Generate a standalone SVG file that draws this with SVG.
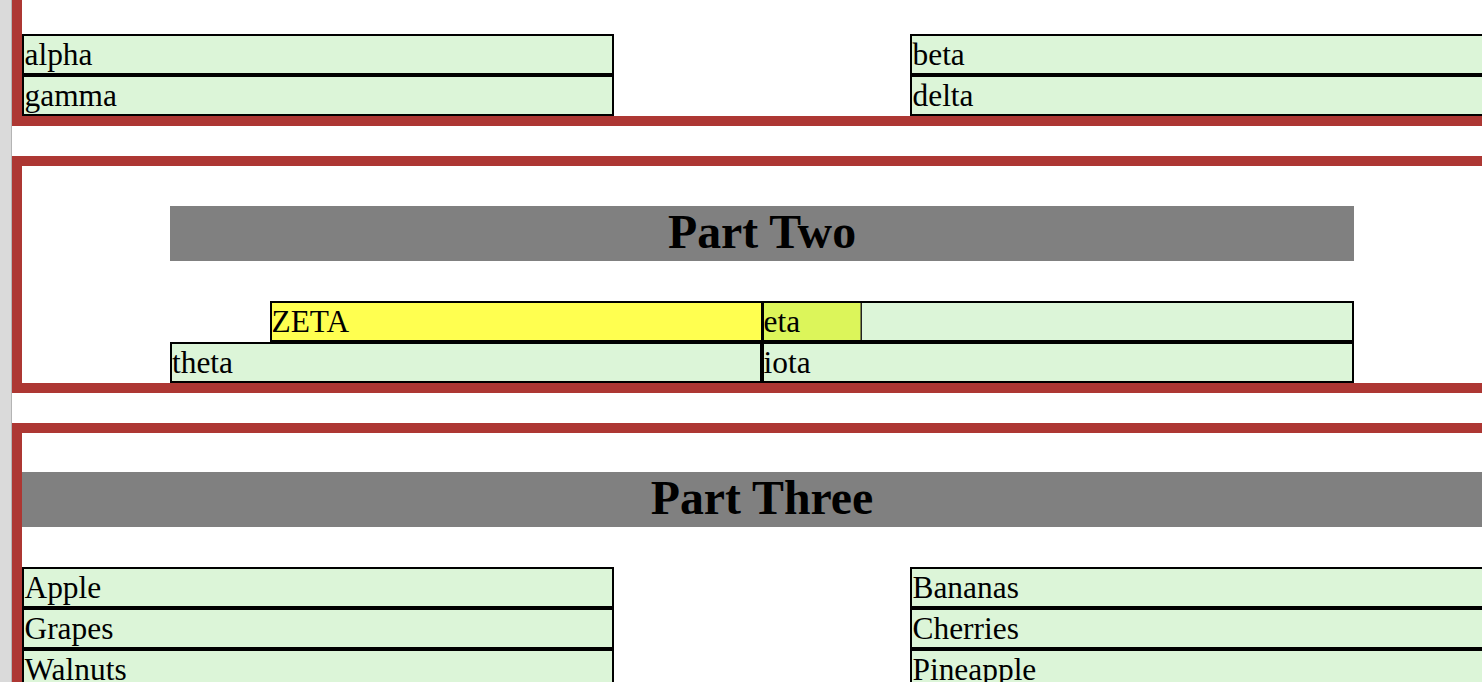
<svg xmlns="http://www.w3.org/2000/svg" width="1482" height="682" viewBox="0 0 1482 682">
<style>
.red{fill:#ad3733}
.cell{fill:#dcf5d8;stroke:#000;stroke-width:2}
.zeta{fill:#ffff50;stroke:#000;stroke-width:2}
.bar{fill:#808080}
.t{font-family:"Liberation Serif","Times New Roman",serif;font-size:31.4px;fill:#000}
.h{font-family:"Liberation Serif","Times New Roman",serif;font-size:47.8px;font-weight:bold;fill:#000;text-anchor:middle}
</style>
<rect x="0" y="0" width="1482" height="682" fill="#fff"/>
<rect x="0" y="0" width="11" height="682" fill="#dadada"/>
<rect x="11" y="0" width="1" height="682" fill="#b4b4b4"/>

<g id="section1">
<rect class="red" x="12" y="0" width="10" height="126"/>
<rect class="red" x="12" y="116" width="1470" height="10"/>
<g id="alpha"><rect class="cell" x="23" y="35" width="590" height="39"/><text class="t" x="24.5" y="65">alpha</text></g>
<g id="gamma"><rect class="cell" x="23" y="76" width="590" height="39"/><text class="t" x="24.5" y="106">gamma</text></g>
<g id="beta"><rect class="cell" x="911" y="35" width="600" height="39"/><text class="t" x="912.5" y="65">beta</text></g>
<g id="delta"><rect class="cell" x="911" y="76" width="600" height="39"/><text class="t" x="912.5" y="106">delta</text></g>
</g>

<g id="section2">
<rect class="red" x="12" y="156" width="1470" height="10"/>
<rect class="red" x="12" y="156" width="10" height="237"/>
<rect class="red" x="12" y="383" width="1470" height="10"/>
<g id="part-two"><rect class="bar" x="170" y="206" width="1184" height="55"/><text class="h" x="762" y="248">Part Two</text></g>
<g id="zeta"><rect class="zeta" x="271" y="302" width="491" height="39"/><text class="t" x="271.5" y="332">ZETA</text></g>
<g id="eta-cell"><rect class="cell" x="763" y="302" width="590" height="39"/></g>
<g id="eta"><rect x="764" y="303" width="97" height="37" fill="#dcf55a"/><rect x="860.5" y="303" width="1.5" height="37" fill="#222"/><text class="t" x="763.5" y="332">eta</text></g>
<g id="theta"><rect class="cell" x="171" y="343" width="590" height="39"/><text class="t" x="172" y="373">theta</text></g>
<g id="iota"><rect class="cell" x="763" y="343" width="590" height="39"/><text class="t" x="763.5" y="373">iota</text></g>
</g>

<g id="section3">
<rect class="red" x="12" y="423" width="1470" height="10"/>
<rect class="red" x="12" y="423" width="10" height="259"/>
<g id="part-three"><rect class="bar" x="22" y="472" width="1460" height="55"/><text class="h" x="762" y="514">Part Three</text></g>
<g id="apple"><rect class="cell" x="23" y="568" width="590" height="39"/><text class="t" x="24.5" y="598">Apple</text></g>
<g id="grapes"><rect class="cell" x="23" y="609" width="590" height="39"/><text class="t" x="24.5" y="639">Grapes</text></g>
<g id="walnuts"><rect class="cell" x="23" y="650" width="590" height="39"/><text class="t" x="24.5" y="680">Walnuts</text></g>
<g id="bananas"><rect class="cell" x="911" y="568" width="600" height="39"/><text class="t" x="912.5" y="598">Bananas</text></g>
<g id="cherries"><rect class="cell" x="911" y="609" width="600" height="39"/><text class="t" x="912.5" y="639">Cherries</text></g>
<g id="pineapple"><rect class="cell" x="911" y="650" width="600" height="39"/><text class="t" x="912.5" y="680">Pineapple</text></g>
</g>
</svg>
